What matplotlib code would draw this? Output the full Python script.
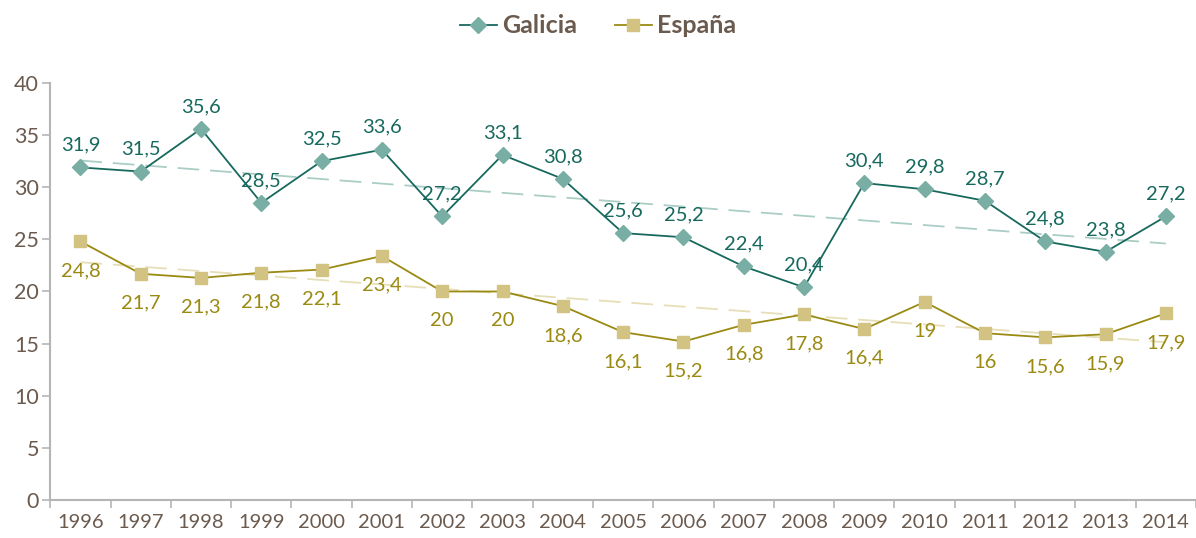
import numpy as np
import matplotlib
matplotlib.use("Agg")
from matplotlib import pyplot as plt
from matplotlib.lines import Line2D

years = ["1996", "1997", "1998", "1999", "2000", "2001", "2002", "2003", "2004", "2005",
         "2006", "2007", "2008", "2009", "2010", "2011", "2012", "2013", "2014"]
galicia = [31.9, 31.5, 35.6, 28.5, 32.5, 33.6, 27.2, 33.1, 30.8, 25.6,
           25.2, 22.4, 20.4, 30.4, 29.8, 28.7, 24.8, 23.8, 27.2]
espana = [24.8, 21.7, 21.3, 21.8, 22.1, 23.4, 20, 20, 18.6, 16.1,
          15.2, 16.8, 17.8, 16.4, 19, 16, 15.6, 15.9, 17.9]

TEXT = "#6b5a4e"
AXIS = "#b5b5b5"
GAL_LINE, GAL_MARK, GAL_TREND = "#17695d", "#78aea4", "#aacdc6"
ESP_LINE, ESP_MARK, ESP_TREND = "#9a8a12", "#d2c382", "#e6deb6"

plt.rcParams['font.family'] = ['Lato', 'DejaVu Sans']

fig = plt.figure(figsize=(11.96, 5.38), dpi=100)
ax = fig.add_axes([0.042, 0.0706, 0.958, 0.7752])

x = np.arange(len(years))

# trend lines (least squares fit)
for vals, col in [(galicia, GAL_TREND), (espana, ESP_TREND)]:
    k, b = np.polyfit(x, vals, 1)
    ax.plot(x, k * x + b, color=col, lw=1.3, dashes=(12, 6), zorder=1)

ax.plot(x, galicia, color=GAL_LINE, lw=1.3, marker="D", ms=8,
        mfc=GAL_MARK, mec=GAL_MARK, zorder=3)
ax.plot(x, espana, color=ESP_LINE, lw=1.3, marker="s", ms=9,
        mfc=ESP_MARK, mec=ESP_MARK, zorder=3)

def fmt(v):
    return ("%g" % v).replace(".", ",")

for i, v in enumerate(galicia):
    ax.annotate(fmt(v), (i, v), xytext=(0, 10), textcoords="offset points",
                ha="center", va="bottom", fontsize=14.5, color=GAL_LINE)
for i, v in enumerate(espana):
    ax.annotate(fmt(v), (i, v), xytext=(0, -15), textcoords="offset points",
                ha="center", va="top", fontsize=14.5, color=ESP_LINE)

ax.set_xlim(-0.5, len(years) - 0.5)
ax.set_ylim(0, 40)
ax.set_yticks(range(0, 41, 5))
ax.set_xticks(x)
ax.set_xticklabels(years)
ax.set_xticks(np.arange(-0.5, len(years) + 0.5, 1), minor=True)
ax.tick_params(axis="x", which="major", length=0, pad=10, labelsize=14.5, labelcolor=TEXT)
ax.tick_params(axis="x", which="minor", length=6, width=1.2, color=AXIS, direction="out")
ax.tick_params(axis="y", length=6, width=1.2, color=AXIS, labelsize=15.5, labelcolor=TEXT, pad=2)

for s in ["top", "right"]:
    ax.spines[s].set_visible(False)
for s in ["left", "bottom"]:
    ax.spines[s].set_color(AXIS)
    ax.spines[s].set_linewidth(1.5)

handles = [
    Line2D([], [], color=GAL_LINE, lw=1.3, marker="D", ms=8, mfc=GAL_MARK, mec=GAL_MARK),
    Line2D([], [], color=ESP_LINE, lw=1.3, marker="s", ms=9, mfc=ESP_MARK, mec=ESP_MARK),
]
leg = fig.legend(handles, ["Galicia", "España"], loc="upper center",
                 bbox_to_anchor=(0.5, 1.015), ncol=2, frameon=False,
                 prop={"weight": "bold", "size": 18}, handlelength=1.5,
                 columnspacing=1.5, handletextpad=0.2)
for t in leg.get_texts():
    t.set_color(TEXT)

fig.savefig("out.png", dpi=100)
